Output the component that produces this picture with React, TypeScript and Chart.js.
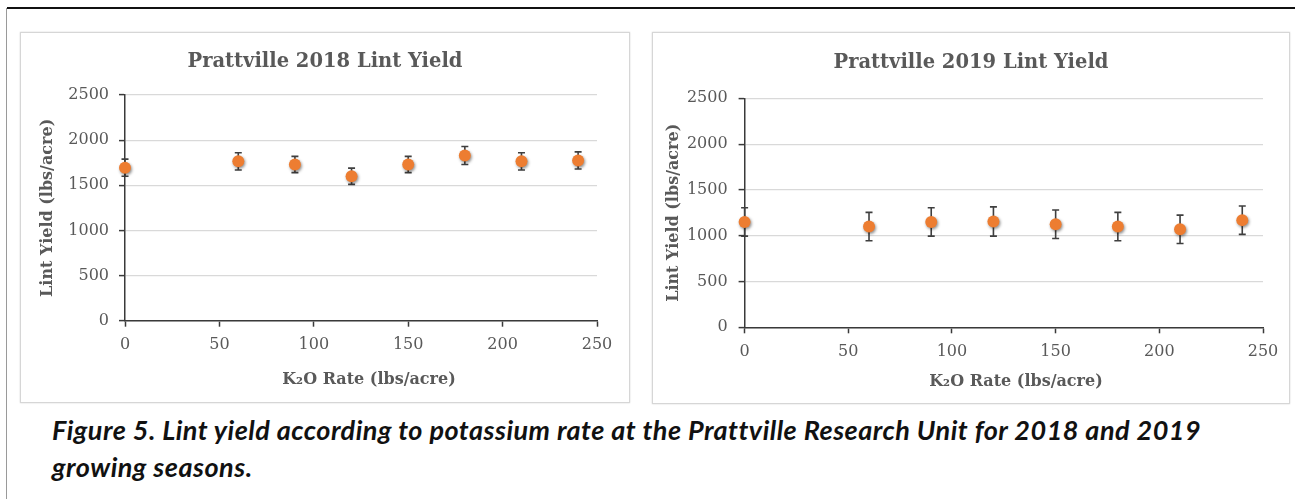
import React, { useEffect, useRef } from "react";
import { Chart, registerables } from "chart.js";

Chart.register(...registerables);

// Potassium (K2O) application rates, lbs/acre
const RATES = [0, 60, 90, 120, 150, 180, 210, 240];

// Mean lint yield and error (± lbs/acre) per rate
const YIELD_2018 = [1695, 1765, 1730, 1600, 1730, 1830, 1765, 1775];
const ERR_2018 = [95, 95, 90, 90, 90, 100, 95, 95];
const YIELD_2019 = [1150, 1100, 1150, 1155, 1125, 1100, 1070, 1170];
const ERR_2019 = [155, 155, 155, 160, 155, 155, 155, 155];

// Axis ticks
const X_TICKS = [0, 50, 100, 150, 200, 250];
const Y_TICKS = [0, 500, 1000, 1500, 2000, 2500];

const TITLE_2018 = "Prattville 2018 Lint Yield";
const TITLE_2019 = "Prattville 2019 Lint Yield";
const X_TITLE = "K₂O Rate (lbs/acre)";
const Y_TITLE = "Lint Yield (lbs/acre)";

const SERIF = "'DejaVu Serif', 'Liberation Serif', serif";
const TEXT_GRAY = "#595959";
const AXIS_DARK = "#3a3a3a";
const GRID_GRAY = "#d9d9d9";
const DOT_ORANGE = "#ED7D31";

// Vertical error bars with caps, drawn behind the points
const errorBars = {
  id: "errorBars",
  beforeDatasetsDraw(chart: any) {
    const { ctx, scales } = chart;
    const x = scales.x;
    const y = scales.y;
    chart.data.datasets.forEach((ds: any) => {
      const errs: number[] | undefined = ds.errors;
      if (!errs) return;
      ctx.save();
      ctx.strokeStyle = "#3f3f3f";
      ctx.lineWidth = 1.6;
      const cap = 3.5;
      ds.data.forEach((p: any, i: number) => {
        const px = x.getPixelForValue(p.x);
        const top = y.getPixelForValue(p.y + errs[i]);
        const bot = y.getPixelForValue(p.y - errs[i]);
        ctx.beginPath();
        ctx.moveTo(px, top);
        ctx.lineTo(px, bot);
        ctx.moveTo(px - cap, top);
        ctx.lineTo(px + cap, top);
        ctx.moveTo(px - cap, bot);
        ctx.lineTo(px + cap, bot);
        ctx.stroke();
      });
      ctx.restore();
    });
  },
};

// Soft drop shadow under the markers
const pointShadow = {
  id: "pointShadow",
  beforeDatasetDraw(chart: any) {
    const c = chart.ctx;
    c.save();
    c.shadowColor = "rgba(0,0,0,0.45)";
    c.shadowBlur = 3;
    c.shadowOffsetX = 1;
    c.shadowOffsetY = 1.5;
  },
  afterDatasetDraw(chart: any) {
    chart.ctx.restore();
  },
};

// Chart title (centred on the whole chart box) and the x-axis title
const chartText = {
  id: "chartText",
  afterDraw(chart: any, _args: any, opts: any) {
    const { ctx, width } = chart;
    ctx.save();
    ctx.fillStyle = TEXT_GRAY;
    ctx.textAlign = "center";
    ctx.textBaseline = "middle";
    ctx.font = `bold 19.5px ${SERIF}`;
    ctx.fillText(opts.title, width / 2, opts.titleY);
    ctx.font = `bold 16px ${SERIF}`;
    ctx.fillText(opts.xTitle, opts.xTitleX, opts.xTitleY);
    ctx.restore();
  },
};

type Geometry = {
  left: number;
  top: number;
  width: number;
  height: number;
  yAxisWidth: number;
  plotTop: number;
  padRight: number;
  xAxisHeight: number;
  titleY: number;
  xTitleX: number;
  xTitleY: number;
  yTitleOffset: number;
  yTickPad: number;
  xTickPad: number;
};

function YieldChart(props: {
  title: string;
  values: number[];
  errors: number[];
  g: Geometry;
}) {
  const ref = useRef<HTMLCanvasElement | null>(null);
  const { title, values, errors, g } = props;

  useEffect(() => {
    if (!ref.current) return;
    const chart = new Chart(ref.current, {
      type: "scatter",
      data: {
        datasets: [
          {
            data: RATES.map((r, i) => ({ x: r, y: values[i] })),
            errors,
            backgroundColor: DOT_ORANGE,
            borderColor: DOT_ORANGE,
            borderWidth: 0,
            pointRadius: 6,
            pointHoverRadius: 6,
            clip: false,
          } as any,
        ],
      },
      plugins: [errorBars, pointShadow, chartText],
      options: {
        responsive: false,
        animation: false,
        events: [],
        layout: {
          padding: { left: 0, right: g.padRight, top: g.plotTop, bottom: 0 },
        },
        plugins: {
          legend: { display: false },
          tooltip: { enabled: false },
          title: { display: false },
          chartText: {
            title,
            titleY: g.titleY,
            xTitle: X_TITLE,
            xTitleX: g.xTitleX,
            xTitleY: g.xTitleY,
          },
        },
        scales: {
          x: {
            type: "linear",
            min: X_TICKS[0],
            max: X_TICKS[X_TICKS.length - 1],
            afterBuildTicks: (s: any) => {
              s.ticks = X_TICKS.map((v) => ({ value: v }));
            },
            afterFit: (s: any) => {
              s.height = g.xAxisHeight;
            },
            grid: {
              drawOnChartArea: false,
              tickColor: AXIS_DARK,
              tickLength: 6,
              tickWidth: 1.5,
            },
            border: { color: AXIS_DARK, width: 1.5 },
            ticks: {
              color: TEXT_GRAY,
              font: { family: SERIF, size: 16 },
              padding: g.xTickPad,
              maxRotation: 0,
              callback: (v: any) => String(v),
            },
            title: { display: false },
          },
          y: {
            type: "linear",
            min: Y_TICKS[0],
            max: Y_TICKS[Y_TICKS.length - 1],
            afterBuildTicks: (s: any) => {
              s.ticks = Y_TICKS.map((v) => ({ value: v }));
            },
            afterFit: (s: any) => {
              s.width = g.yAxisWidth;
            },
            grid: {
              color: GRID_GRAY,
              lineWidth: 1.2,
              tickColor: AXIS_DARK,
              tickLength: 6,
              tickWidth: 1.5,
            },
            border: { color: AXIS_DARK, width: 1.5 },
            ticks: {
              color: TEXT_GRAY,
              font: { family: SERIF, size: 16 },
              padding: g.yTickPad,
              callback: (v: any) => String(v),
            },
            title: {
              display: true,
              text: Y_TITLE,
              color: TEXT_GRAY,
              font: { family: SERIF, size: 16, weight: "bold" },
              padding: { top: g.yTitleOffset, bottom: 0 },
            },
          },
        },
      } as any,
    });
    return () => chart.destroy();
  }, []);

  return (
    <>
      <div
        style={{
          position: "absolute",
          left: g.left,
          top: g.top,
          width: g.width,
          height: g.height,
          boxSizing: "border-box",
          border: "1px solid #d6d6d6",
          boxShadow: "0 0 1.5px rgba(0,0,0,0.18)",
          background: "#fff",
        }}
      />
      <canvas
        ref={ref}
        width={g.width}
        height={g.height}
        style={{
          position: "absolute",
          left: g.left,
          top: g.top,
          width: g.width,
          height: g.height,
        }}
      />
    </>
  );
}

const LEFT_GEOM: Geometry = {
  left: 20,
  top: 32,
  width: 610,
  height: 371,
  yAxisWidth: 105,
  plotTop: 63,
  padRight: 33,
  xAxisHeight: 82.3,
  titleY: 29.5,
  xTitleX: 349,
  xTitleY: 348,
  yTitleOffset: 18,
  yTickPad: 10,
  xTickPad: 9,
};

const RIGHT_GEOM: Geometry = {
  left: 652,
  top: 32,
  width: 638,
  height: 372,
  yAxisWidth: 92.6,
  plotTop: 66.3,
  padRight: 27,
  xAxisHeight: 76.7,
  titleY: 30.5,
  xTitleX: 364,
  xTitleY: 349.7,
  yTitleOffset: 12,
  yTickPad: 11,
  xTickPad: 9,
};

export default function App() {
  return (
    <div
      style={{
        position: "absolute",
        left: 0,
        top: 0,
        width: 1295,
        height: 499,
        background: "#fff",
        overflow: "hidden",
      }}
    >
      <div
        style={{
          position: "absolute",
          left: 7,
          top: 7,
          width: 1288,
          height: 2,
          background: "#111",
        }}
      />
      <div
        style={{
          position: "absolute",
          left: 6,
          top: 8,
          width: 1,
          height: 491,
          background: "#9a9a9a",
        }}
      />
      <YieldChart title={TITLE_2018} values={YIELD_2018} errors={ERR_2018} g={LEFT_GEOM} />
      <YieldChart title={TITLE_2019} values={YIELD_2019} errors={ERR_2019} g={RIGHT_GEOM} />
      <div
        style={{
          position: "absolute",
          left: 52,
          top: 411,
          fontFamily: "Lato, 'Open Sans', sans-serif",
          fontStyle: "italic",
          fontWeight: 700,
          fontSize: 27,
          letterSpacing: "0.5px",
          lineHeight: "37px",
          color: "#111",
          whiteSpace: "nowrap",
        }}
      >
        Figure 5. Lint yield according to potassium rate at the Prattville Research Unit for 2018 and 2019
        <br />
        growing seasons.
      </div>
    </div>
  );
}
